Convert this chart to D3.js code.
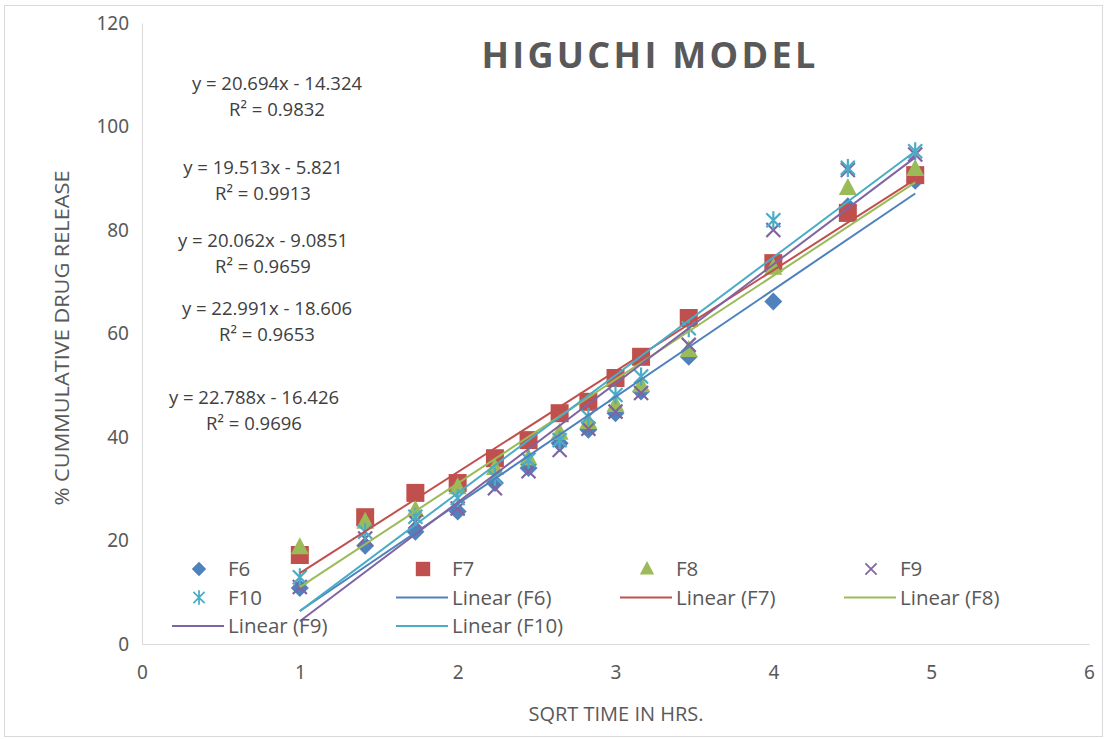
<!DOCTYPE html>
<html>
<head>
<meta charset="utf-8">
<script src="https://cdn.jsdelivr.net/npm/d3@7"></script>
<style>
  body { margin: 0; background: #fff; }
  text { font-family: "Open Sans", "Noto Sans", sans-serif; }
</style>
</head>
<body>
<div id="chart"></div>
<script>
// sqrt of time in hours (1..10, 12, 16, 20, 24 h)
const sqrtTime = [1, 1.414, 1.732, 2, 2.236, 2.449, 2.646, 2.828, 3, 3.162, 3.464, 4, 4.472, 4.899];

const seriesNames = ["F6", "F7", "F8", "F9", "F10"];
const F6  = [10.8, 19.0, 21.7, 25.6, 31.1, 34.0, 38.8, 41.4, 44.6, 48.8, 55.5, 66.2, 84.6, 89.5];
const F7  = [17.2, 24.5, 29.2, 31.1, 35.9, 39.4, 44.6, 46.8, 51.4, 55.5, 63.0, 73.6, 83.3, 90.6];
const F8  = [18.7, 23.6, 25.9, 30.3, 34.0, 35.9, 40.8, 42.9, 46.2, 50.0, 56.8, 72.7, 88.1, 91.8];
const F9  = [11.0, 20.4, 23.6, 26.2, 30.1, 33.4, 37.5, 41.6, 44.9, 48.5, 57.8, 80.0, 91.6, 94.6];
const F10 = [12.9, 21.7, 24.6, 28.2, 32.3, 35.6, 39.4, 43.9, 48.1, 51.7, 61.0, 81.9, 92.0, 95.2];

// trendline coefficients as printed on the chart
const slopes     = [20.694, 19.513, 20.062, 22.991, 22.788];
const intercepts = [-14.324, -5.821, -9.0851, -18.606, -16.426];
const r2         = ["0.9832", "0.9913", "0.9659", "0.9653", "0.9696"];

const xTicks = [0, 1, 2, 3, 4, 5, 6];
const yTicks = [0, 20, 40, 60, 80, 100, 120];

const colors  = ["#4F81BD", "#C0504D", "#9BBB59", "#8064A2", "#4BACC6"];
const symbols = ["diamond", "square", "triangle", "x", "star"];

const W = 1107, H = 739;
const svg = d3.select("#chart").append("svg")
  .attr("width", W).attr("height", H);

// chart border
svg.append("rect")
  .attr("x", 4.5).attr("y", 5.5).attr("width", W - 9).attr("height", H - 8)
  .attr("fill", "#fff").attr("stroke", "#d9d9d9");

const x = d3.scaleLinear().domain([0, 6]).range([142, 1089]);
const y = d3.scaleLinear().domain([0, 120]).range([644, 23]);

// axes
svg.append("g")
  .attr("transform", "translate(0," + y(0) + ")")
  .call(d3.axisBottom(x).tickValues(xTicks).tickSize(0).tickPadding(22).tickFormat(d3.format("d")))
  .call(g => g.select(".domain").attr("stroke", "#d9d9d9"))
  .selectAll("text").style("font-size", "19px").attr("fill", "#595959")
  .style("font-family", "'Noto Sans', sans-serif");

svg.append("g")
  .attr("transform", "translate(" + x(0) + ",0)")
  .call(d3.axisLeft(y).tickValues(yTicks).tickSize(0).tickPadding(13))
  .call(g => g.select(".domain").attr("stroke", "#d9d9d9"))
  .selectAll("text").style("font-size", "19px").attr("fill", "#595959")
  .style("font-family", "'Noto Sans', sans-serif");

// axis titles
svg.append("text")
  .attr("x", 616).attr("y", 721)
  .attr("text-anchor", "middle")
  .style("font-size", "20px").attr("fill", "#595959")
  .text("SQRT TIME IN HRS.");

svg.append("text")
  .attr("transform", "translate(69,338) rotate(-90)")
  .attr("text-anchor", "middle")
  .style("font-size", "20px").attr("fill", "#595959")
  .attr("textLength", 335).attr("lengthAdjust", "spacingAndGlyphs")
  .text("% CUMMULATIVE DRUG RELEASE");

// title
svg.append("text")
  .attr("x", 650).attr("y", 68)
  .attr("text-anchor", "middle")
  .style("font-size", "36px").style("font-weight", "bold")
  .style("letter-spacing", "3.3px")
  .attr("fill", "#595959")
  .text("HIGUCHI MODEL");

// marker drawing (k = size factor)
function drawMarker(g, type, color, cx, cy, k) {
  k = k || 1;
  const tr = "translate(" + cx + "," + cy + ") scale(" + k + ")";
  if (type === "diamond") {
    g.append("path").attr("d", "M0,-9L9,0L0,9L-9,0Z")
      .attr("transform", tr).attr("fill", color);
  } else if (type === "square") {
    g.append("path").attr("d", "M-9,-9H9V9H-9Z")
      .attr("transform", tr).attr("fill", color);
  } else if (type === "triangle") {
    g.append("path").attr("d", "M0,-10L9,7L-9,7Z")
      .attr("transform", tr).attr("fill", color);
  } else if (type === "x") {
    g.append("path").attr("d", "M-7,-7L7,7M-7,7L7,-7")
      .attr("transform", tr)
      .attr("stroke", color).attr("stroke-width", 2.2).attr("fill", "none");
  } else {
    g.append("path").attr("d", "M-7,-7L7,7M-7,7L7,-7M0,-9L0,9")
      .attr("transform", tr)
      .attr("stroke", color).attr("stroke-width", 2.2).attr("fill", "none");
  }
}

const allSeries = [F6, F7, F8, F9, F10];
const pts = svg.append("g");
allSeries.forEach((vals, i) => {
  vals.forEach((v, j) => drawMarker(pts, symbols[i], colors[i], x(sqrtTime[j]), y(v)));
});

// linear trendlines
const xMin = d3.min(sqrtTime), xMax = d3.max(sqrtTime);
svg.append("g").selectAll("line")
  .data(seriesNames)
  .join("line")
  .attr("x1", x(xMin))
  .attr("y1", (d, i) => y(slopes[i] * xMin + intercepts[i]))
  .attr("x2", x(xMax))
  .attr("y2", (d, i) => y(slopes[i] * xMax + intercepts[i]))
  .attr("stroke", (d, i) => colors[i])
  .attr("stroke-width", 2);

// trendline equations
const eqPos = [[277, 90, 116], [263, 174, 200], [263, 247, 273], [267, 315, 341], [254, 404, 430]];
const eq = svg.append("g").attr("fill", "#404040").style("font-size", "18.5px").attr("text-anchor", "middle");
seriesNames.forEach((s, i) => {
  const b = intercepts[i];
  eq.append("text").attr("x", eqPos[i][0]).attr("y", eqPos[i][1])
    .text("y = " + slopes[i] + "x " + (b < 0 ? "- " : "+ ") + Math.abs(b));
  eq.append("text").attr("x", eqPos[i][0]).attr("y", eqPos[i][2])
    .text("R² = " + r2[i]);
});

// legend
const legendItems = seriesNames.map((s, i) => ({ label: s, i: i, kind: "marker" }))
  .concat(seriesNames.map((s, i) => ({ label: "Linear (" + s + ")", i: i, kind: "line" })));
const leg = svg.append("g");
legendItems.forEach((d, k) => {
  const col = k % 4, row = Math.floor(k / 4);
  const tx = 228 + col * 224, ty = 569 + row * 28.5;
  if (d.kind === "marker") {
    drawMarker(leg, symbols[d.i], colors[d.i], tx - 29, ty, 0.8);
  } else {
    leg.append("line").attr("x1", tx - 56).attr("x2", tx - 4)
      .attr("y1", ty).attr("y2", ty)
      .attr("stroke", colors[d.i]).attr("stroke-width", 2);
  }
  leg.append("text").attr("x", tx).attr("y", ty + 7)
    .style("font-size", "20.5px").attr("fill", "#595959")
    .text(d.label);
});
</script>
</body>
</html>
